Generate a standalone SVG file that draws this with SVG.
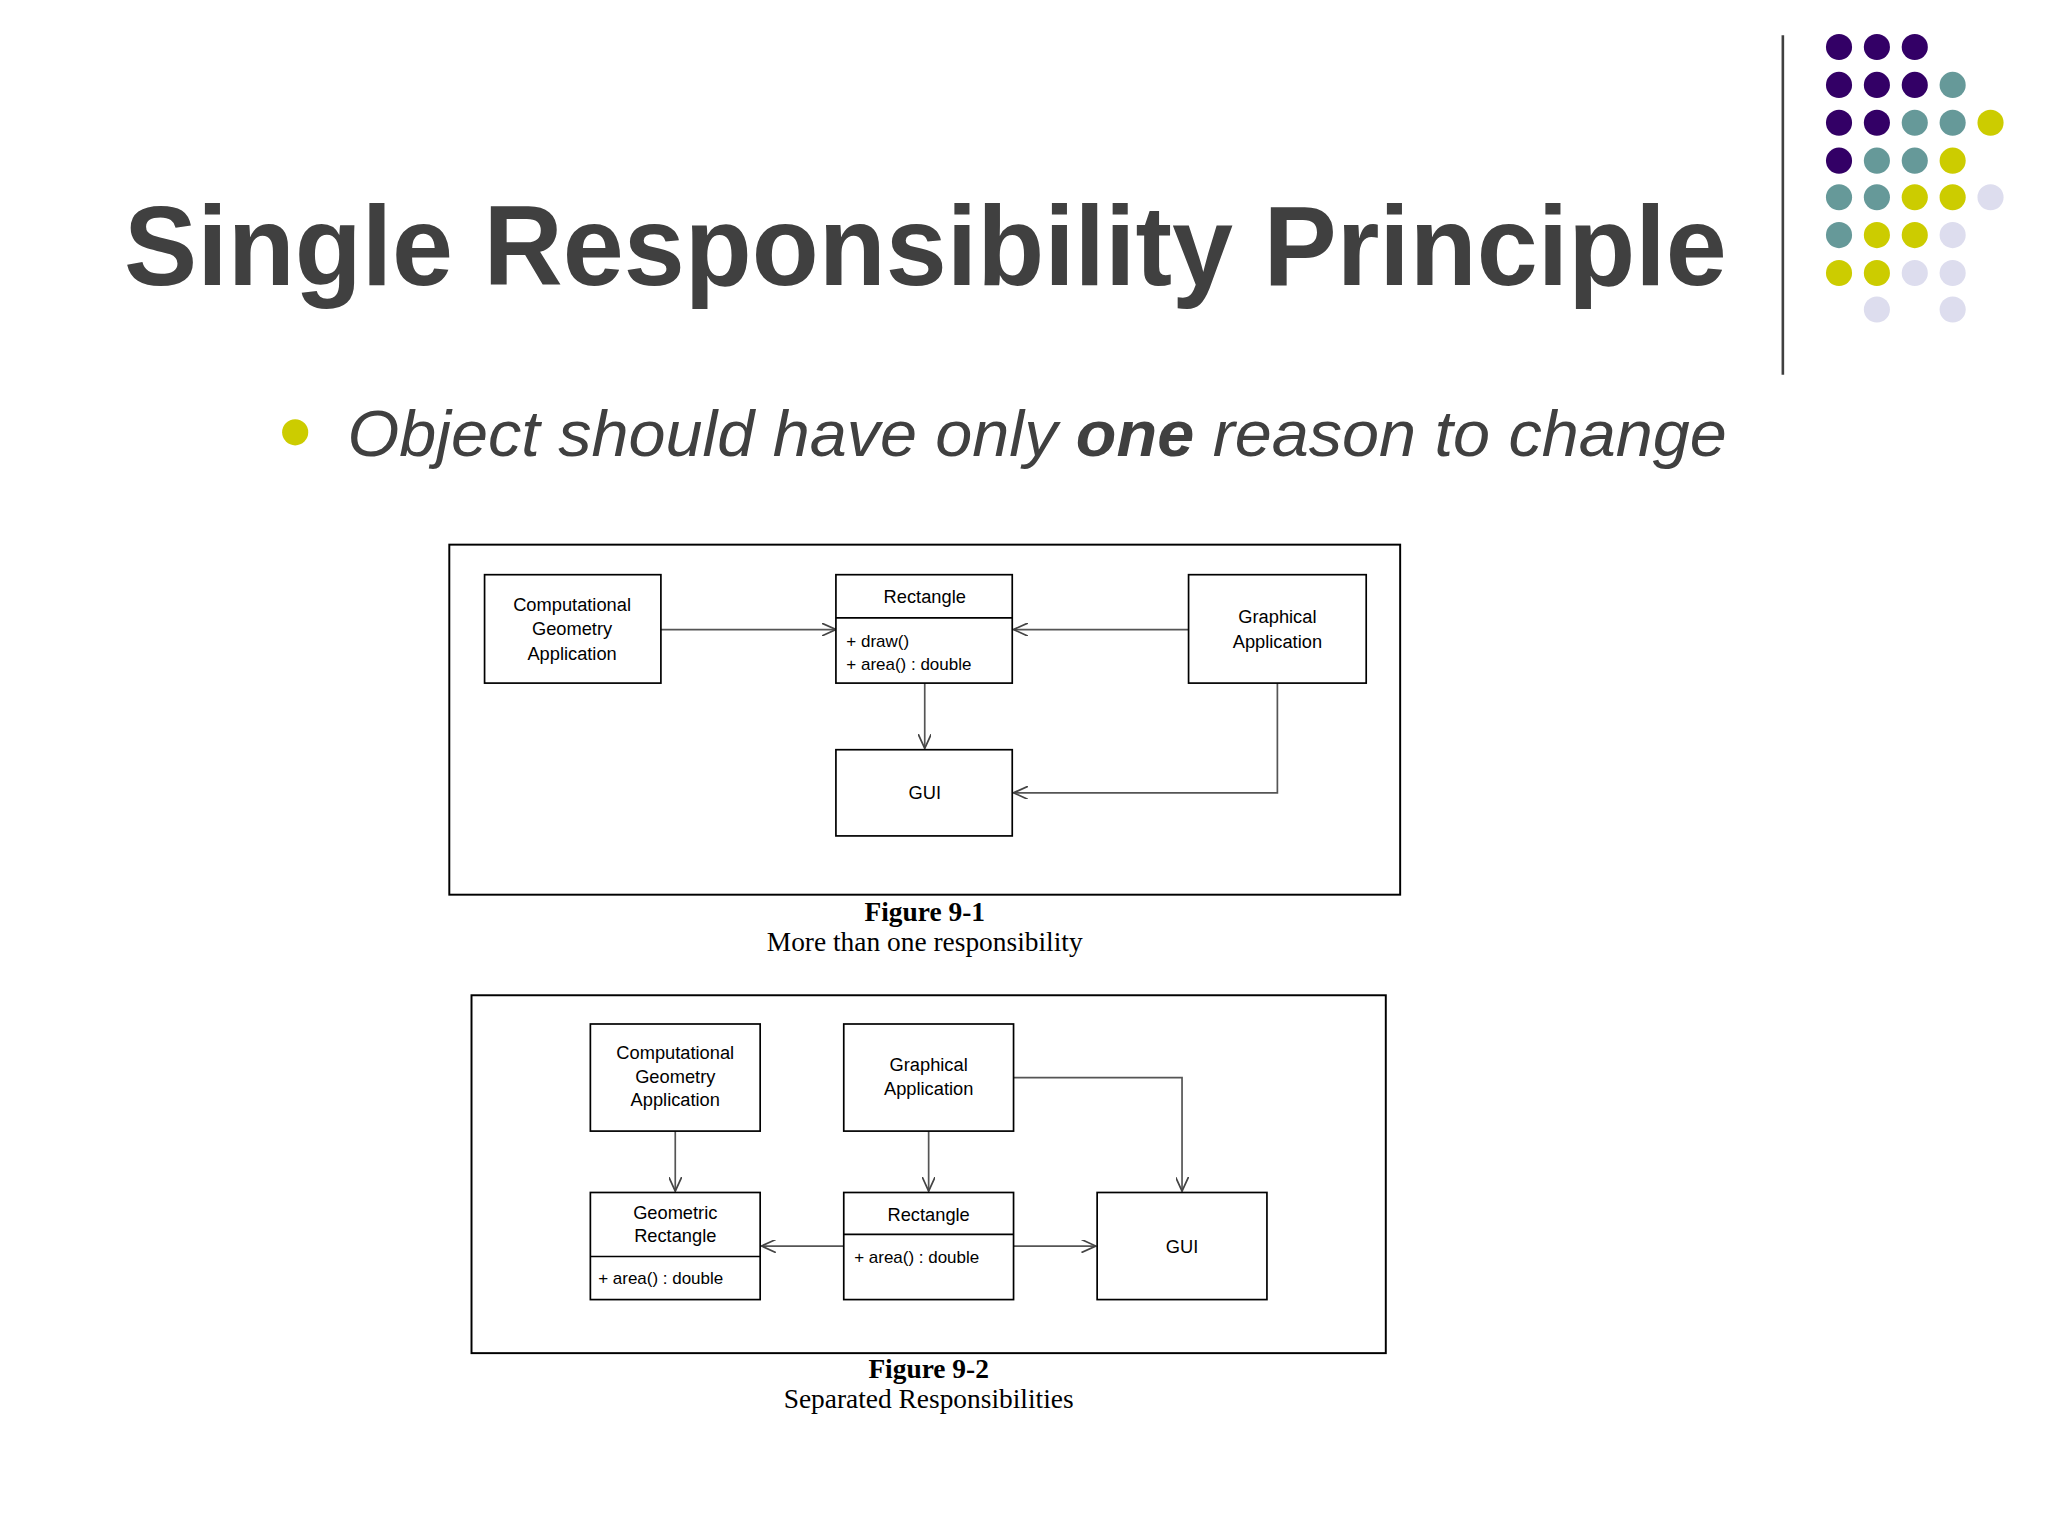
<svg xmlns="http://www.w3.org/2000/svg" width="2048" height="1536" viewBox="0 0 2048 1536">
<defs>
<style>
.box{fill:#fff;stroke:#000;stroke-width:1.3}
.frame{fill:none;stroke:#000;stroke-width:1.5}
.t{font-family:"Liberation Sans",Arial,sans-serif;font-size:14px;fill:#000;text-anchor:middle}
.tl{font-family:"Liberation Sans",Arial,sans-serif;font-size:13px;fill:#000}
.con{fill:none;stroke:#555;stroke-width:1.3;marker-end:url(#open)}
.cap{font-family:"Liberation Serif","Times New Roman",serif;font-size:21px;fill:#000;text-anchor:middle}
.P{fill:#330066}.T{fill:#669999}.Y{fill:#cccc00}.L{fill:#ddddee}
</style>
<marker id="open" viewBox="0 0 12 10" refX="11" refY="5" markerWidth="12" markerHeight="10" markerUnits="userSpaceOnUse" orient="auto">
<path d="M0,0 L11,5 L0,10" fill="none" stroke="#444" stroke-width="1.3"/>
</marker>
</defs>
<rect width="2048" height="1536" fill="#fff"/>
<g transform="scale(1.30612)">
<text x="95" y="218" font-family="Liberation Sans,Arial,sans-serif" font-weight="bold" font-size="86" fill="#404040" textLength="1227" lengthAdjust="spacingAndGlyphs">Single Responsibility Principle</text>
<line x1="1365" y1="27" x2="1365" y2="287" stroke="#404040" stroke-width="2"/>
<g id="dots">
<circle class="P" cx="1408" cy="36" r="10"/><circle class="P" cx="1437" cy="36" r="10"/><circle class="P" cx="1466" cy="36" r="10"/>
<circle class="P" cx="1408" cy="65" r="10"/><circle class="P" cx="1437" cy="65" r="10"/><circle class="P" cx="1466" cy="65" r="10"/><circle class="T" cx="1495" cy="65" r="10"/>
<circle class="P" cx="1408" cy="94" r="10"/><circle class="P" cx="1437" cy="94" r="10"/><circle class="T" cx="1466" cy="94" r="10"/><circle class="T" cx="1495" cy="94" r="10"/><circle class="Y" cx="1524" cy="94" r="10"/>
<circle class="P" cx="1408" cy="123" r="10"/><circle class="T" cx="1437" cy="123" r="10"/><circle class="T" cx="1466" cy="123" r="10"/><circle class="Y" cx="1495" cy="123" r="10"/>
<circle class="T" cx="1408" cy="151" r="10"/><circle class="T" cx="1437" cy="151" r="10"/><circle class="Y" cx="1466" cy="151" r="10"/><circle class="Y" cx="1495" cy="151" r="10"/><circle class="L" cx="1524" cy="151" r="10"/>
<circle class="T" cx="1408" cy="180" r="10"/><circle class="Y" cx="1437" cy="180" r="10"/><circle class="Y" cx="1466" cy="180" r="10"/><circle class="L" cx="1495" cy="180" r="10"/>
<circle class="Y" cx="1408" cy="209" r="10"/><circle class="Y" cx="1437" cy="209" r="10"/><circle class="L" cx="1466" cy="209" r="10"/><circle class="L" cx="1495" cy="209" r="10"/>
<circle class="L" cx="1437" cy="237" r="10"/><circle class="L" cx="1495" cy="237" r="10"/>
</g>
<circle cx="226" cy="331" r="10" fill="#cccc00"/>
<text x="266" y="349" font-family="Liberation Sans,Arial,sans-serif" font-style="italic" font-size="49" fill="#404040" textLength="1056" lengthAdjust="spacingAndGlyphs">Object should have only <tspan font-weight="bold">one</tspan> reason to change</text>

<rect class="frame" x="344" y="417" width="728" height="268"/>
<g id="connectors1">
<line class="con" x1="506" y1="482" x2="640" y2="482" stroke="#888" stroke-width="2"/>
<line class="con" x1="910" y1="482" x2="776" y2="482" stroke="#888" stroke-width="2"/>
<line class="con" x1="708" y1="523" x2="708" y2="573"/>
<polyline class="con" points="978,523 978,607 776,607"/>
</g>
<g id="f1-cga"><rect class="box" x="371" y="440" width="135" height="83"/><text class="t" x="438" y="468">Computational</text><text class="t" x="438" y="486">Geometry</text><text class="t" x="438" y="505">Application</text></g>
<g id="f1-rect"><rect class="box" x="640" y="440" width="135" height="83"/><line x1="640" y1="473" x2="775" y2="473" stroke="#000" stroke-width="1.3"/><text class="t" x="708" y="462">Rectangle</text><text class="tl" x="648" y="495">+ draw()</text><text class="tl" x="648" y="513">+ area() : double</text></g>
<g id="f1-ga"><rect class="box" x="910" y="440" width="136" height="83"/><text class="t" x="978" y="477">Graphical</text><text class="t" x="978" y="496">Application</text></g>
<g id="f1-gui"><rect class="box" x="640" y="574" width="135" height="66"/><text class="t" x="708" y="612">GUI</text></g>
<text class="cap" x="708" y="705" font-weight="bold">Figure 9-1</text>
<text class="cap" x="708" y="728">More than one responsibility</text>

<rect class="frame" x="361" y="762" width="700" height="274"/>
<g id="connectors2">
<line class="con" x1="517" y1="866" x2="517" y2="912"/>
<line class="con" x1="711" y1="866" x2="711" y2="912"/>
<polyline class="con" points="776,825 905,825 905,912"/>
<line class="con" x1="646" y1="954" x2="583" y2="954"/>
<line class="con" x1="776" y1="954" x2="839" y2="954"/>
</g>
<g id="f2-cga"><rect class="box" x="452" y="784" width="130" height="82"/><text class="t" x="517" y="811">Computational</text><text class="t" x="517" y="829">Geometry</text><text class="t" x="517" y="847">Application</text></g>
<g id="f2-ga"><rect class="box" x="646" y="784" width="130" height="82"/><text class="t" x="711" y="820">Graphical</text><text class="t" x="711" y="838">Application</text></g>
<g id="f2-georect"><rect class="box" x="452" y="913" width="130" height="82"/><line x1="452" y1="962" x2="582" y2="962" stroke="#000" stroke-width="1.3"/><text class="t" x="517" y="933">Geometric</text><text class="t" x="517" y="951">Rectangle</text><text class="tl" x="458" y="983">+ area() : double</text></g>
<g id="f2-rect"><rect class="box" x="646" y="913" width="130" height="82"/><line x1="646" y1="945" x2="776" y2="945" stroke="#000" stroke-width="1.3"/><text class="t" x="711" y="935">Rectangle</text><text class="tl" x="654" y="967">+ area() : double</text></g>
<g id="f2-gui"><rect class="box" x="840" y="913" width="130" height="82"/><text class="t" x="905" y="959">GUI</text></g>
<text class="cap" x="711" y="1055" font-weight="bold">Figure 9-2</text>
<text class="cap" x="711" y="1078">Separated Responsibilities</text>
</g>
</svg>
